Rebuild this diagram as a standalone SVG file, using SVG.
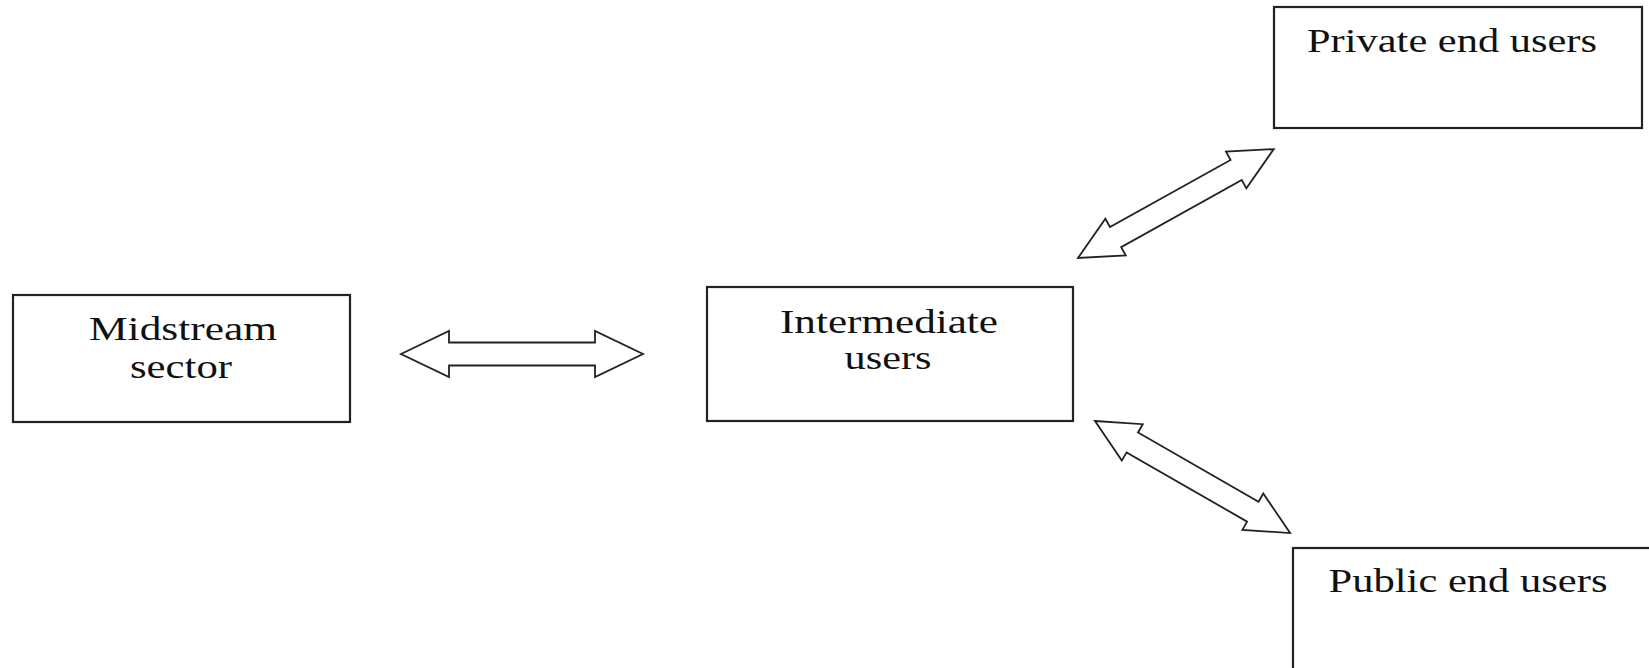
<svg xmlns="http://www.w3.org/2000/svg" width="1649" height="668" viewBox="0 0 1649 668">
<style>
.box{fill:#fff;stroke:#222;stroke-width:2.2}
.lbl{font-family:"Liberation Serif","Times New Roman",serif;font-size:33px;fill:#111;text-anchor:middle}
.arr{fill:#fff;stroke:#222;stroke-width:1.8;stroke-linejoin:miter}
</style>
<rect width="1649" height="668" fill="#fff"/>
<g id="connectors">
<polygon class="arr" transform="translate(401,354)" points="0,0 48,-23 48,-11.5 194,-11.5 194,-23 242,0 194,23 194,11.5 48,11.5 48,23"/>
<polygon class="arr" transform="translate(1078,258) rotate(-29.08)" points="0,0 43,-21 43,-11.5 181,-11.5 181,-21 224,0 181,21 181,11.5 43,11.5 43,21"/>
<polygon class="arr" transform="translate(1095,421) rotate(29.87)" points="0,0 43,-21 43,-11.5 182,-11.5 182,-21 225,0 182,21 182,11.5 43,11.5 43,21"/>
</g>
<g id="midstream">
<rect class="box" x="13" y="295" width="337" height="127"/>
<text class="lbl" x="183" y="340" textLength="188" lengthAdjust="spacingAndGlyphs">Midstream</text>
<text class="lbl" x="181" y="378" textLength="102" lengthAdjust="spacingAndGlyphs">sector</text>
</g>
<g id="intermediate">
<rect class="box" x="707" y="287" width="366" height="134"/>
<text class="lbl" x="889" y="333" textLength="218" lengthAdjust="spacingAndGlyphs">Intermediate</text>
<text class="lbl" x="888" y="369" textLength="87" lengthAdjust="spacingAndGlyphs">users</text>
</g>
<g id="private">
<rect class="box" x="1274" y="7" width="368" height="121"/>
<text class="lbl" x="1452" y="52" textLength="290" lengthAdjust="spacingAndGlyphs">Private end users</text>
</g>
<g id="public">
<rect class="box" x="1293" y="548" width="370" height="140"/>
<text class="lbl" x="1468" y="592" textLength="279" lengthAdjust="spacingAndGlyphs">Public end users</text>
</g>
</svg>
